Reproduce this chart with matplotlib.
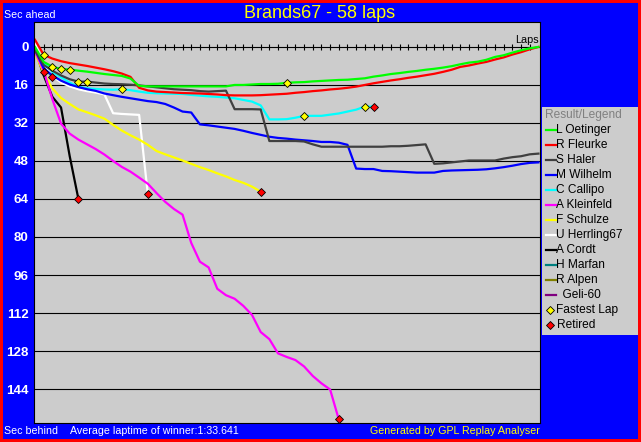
import matplotlib.pyplot as plt
from matplotlib.patches import Rectangle

W, H = 641, 442

drivers = ["L Oetinger", "R Fleurke", "S Haler", "M Wilhelm", "C Callipo",
           "A Kleinfeld", "F Schulze", "U Herrling67", "A Cordt", "H Marfan",
           "R Alpen", "Geli-60"]
colors = ["#00ff00", "#ff0000", "#404040", "#0000ff", "#00ffff", "#ff00ff",
          "#ffff00", "#ffffff", "#000000", "#008080", "#808000", "#800080"]

# seconds behind (positive) at the end of each lap, lap 0 = start
oetinger = [0.0, 6.3, 8.3, 9.3, 9.5, 10.0, 10.4, 10.9, 11.4, 11.8,
            12.2, 13.3, 16.4, 16.6, 16.6, 16.6, 16.6, 16.6, 16.6, 16.6,
            16.6, 16.6, 16.6, 16.0, 16.0, 15.8, 15.6, 15.6, 15.5, 15.1,
            14.9, 14.8, 14.5, 14.3, 14.1, 13.9, 13.8, 13.5, 13.2, 12.5,
            12.0, 11.4, 11.0, 10.5, 10.1, 9.6, 9.2, 8.7, 8.1, 7.3,
            6.6, 6.2, 5.4, 4.2, 3.5, 2.4, 1.4, 0.6, 0.0]
fleurke = [-3.0, 3.3, 4.9, 6.0, 6.8, 7.4, 8.0, 8.7, 9.4, 10.2,
           11.2, 12.6, 17.2, 18.3, 18.8, 19.0, 19.2, 19.4, 19.5, 19.6,
           19.8, 20.0, 20.3, 20.4, 20.4, 20.4, 20.3, 20.1, 19.9, 19.7,
           19.3, 19.0, 18.6, 18.3, 17.9, 17.6, 17.2, 16.7, 16.0, 15.3,
           14.7, 14.1, 13.6, 13.0, 12.5, 11.9, 11.3, 10.5, 9.6, 8.4,
           7.8, 7.0, 6.3, 5.3, 4.4, 3.2, 2.2, 1.0, 0.0]
haler = [1.5, 7.6, 10.0, 12.0, 13.6, 14.6, 14.6, 15.0, 15.4, 15.6,
         15.7, 15.9, 16.2, 16.6, 17.0, 17.4, 17.8, 18.0, 18.2, 18.6,
         18.8, 18.6, 18.4, 26.2, 26.2, 26.2, 26.3, 39.6, 39.6, 39.6,
         39.6, 39.8, 41.0, 42.0, 42.0, 42.0, 42.0, 42.0, 42.0, 42.0,
         42.0, 41.8, 41.8, 41.6, 41.3, 41.0, 49.2, 49.0, 48.6, 48.2,
         47.8, 47.8, 47.8, 47.8, 47.0, 46.4, 46.0, 45.2, 44.9]
wilhelm = [1.0, 9.0, 12.0, 14.2, 15.8, 16.9, 17.8, 18.5, 19.6, 20.3,
           21.0, 21.6, 22.2, 22.8, 23.2, 24.0, 25.5, 27.2, 27.6, 32.6,
           33.0, 33.5, 34.0, 34.5, 35.3, 36.2, 37.0, 37.8, 38.3, 38.6,
           39.0, 39.3, 39.6, 40.0, 40.0, 40.3, 41.2, 51.2, 51.4, 51.4,
           52.2, 52.3, 52.5, 52.7, 52.9, 52.9, 52.9, 52.2, 52.0, 51.9,
           51.8, 51.7, 51.5, 51.1, 50.6, 50.0, 49.3, 48.8, 48.6]
callipo = [0.5, 6.5, 10.5, 12.8, 15.0, 16.8, 17.4, 17.7, 17.9, 18.0,
           17.8, 18.2, 18.8, 19.3, 19.5, 19.6, 19.7, 19.8, 20.2, 20.5,
           20.8, 21.0, 21.3, 21.6, 22.3, 23.0, 24.6, 30.5, 30.5, 30.4,
           29.8, 29.0, 29.0, 29.0, 28.5, 28.0, 27.2, 26.4, 25.1, 25.1]
kleinfeld = [2.0, 10.0, 22.0, 32.3, 36.5, 39.0, 41.0, 43.0, 45.3, 48.0,
             50.5, 52.5, 55.0, 57.6, 61.5, 65.2, 68.2, 70.6, 82.5, 90.4,
             92.8, 101.8, 104.5, 106.0, 109.0, 112.8, 120.0, 123.0, 129.0, 130.5,
             131.8, 134.5, 138.5, 141.6, 144.2, 156.8]
schulze = [2.5, 11.0, 17.5, 21.5, 24.0, 26.3, 27.5, 28.8, 30.2, 32.8,
           35.2, 37.2, 39.0, 41.2, 43.8, 45.2, 46.5, 47.8, 49.2, 50.6,
           51.8, 53.2, 54.5, 56.0, 57.2, 58.8, 60.9]
herrling = [-1.5, 7.0, 12.2, 15.0, 16.6, 17.8, 18.6, 19.2, 20.0, 27.9,
            28.2, 28.4, 28.6, 62.0]
cordt = [1.0, 12.0, 21.0, 25.5, 46.0, 64.0]
marfan = [1.0, 8.5, 12.5]
alpen = [1.5, 10.4]
geli = []

gaps = [oetinger, fleurke, haler, wilhelm, callipo, kleinfeld, schulze,
        herrling, cordt, marfan, alpen, geli]
finished = ["L Oetinger", "R Fleurke", "S Haler", "M Wilhelm"]

fastest_driver = ["R Fleurke", "L Oetinger", "L Oetinger", "L Oetinger", "S Haler",
                  "S Haler", "C Callipo", "L Oetinger", "C Callipo", "C Callipo"]
fastest_lap = [1, 2, 3, 4, 5, 6, 10, 29, 31, 38]

total_laps = 58
grid_secs = list(range(16, 145, 16))

plt.rcParams['font.family'] = ['Liberation Sans', 'DejaVu Sans']

fig = plt.figure(figsize=(W / 100, H / 100), dpi=100, facecolor='#0000ff')
ax = fig.add_axes([34 / W, 1 - 423 / H, 506 / W, 401 / H])
ax.set_facecolor('#cccccc')
ax.set_xlim(-0.115, 58.18)
ax.set_ylim(158.3, -10.5)
for s in ax.spines.values():
    s.set_color('black')
    s.set_linewidth(0.8)

ax.hlines(grid_secs, -0.2, 58.3, color='black', lw=0.8, zorder=1)
ax.hlines(0, 0.5, 58.3, color='black', lw=0.8, zorder=1)
ax.vlines(range(1, total_laps), -1.2, 1.2, color='black', lw=0.8, zorder=1)
ax.text(58, -0.8, 'Laps', ha='right', va='bottom', fontsize=7.8, color='black')

for name, col, g in reversed(list(zip(drivers, colors, gaps))):
    if not g:
        continue
    ax.plot(range(len(g)), g, color=col, lw=1.6, zorder=2)

for d, lap in zip(fastest_driver, fastest_lap):
    g = gaps[drivers.index(d)]
    ax.plot(lap, g[lap], marker='D', ms=4.5, mfc='#ffff00', mec='black',
            mew=0.6, zorder=4)
for name, g in zip(drivers, gaps):
    if g and name not in finished:
        ax.plot(len(g) - 1, g[-1], marker='D', ms=4.5, mfc='#ff0000',
                mec='black', mew=0.6, zorder=4)

ax.set_xticks([])
ax.set_yticks([0] + grid_secs)
ax.set_yticklabels([str(v) for v in [0] + grid_secs])
ax.tick_params(axis='y', length=0, pad=4, labelcolor='white', labelsize=9.6)
for t in ax.get_yticklabels():
    t.set_fontweight('bold')

# texts around the plot
fig.text(320 / W, 1 - 13 / H, 'Brands67 - 58 laps', ha='center', va='center',
         color='#ffff00', fontsize=13)
fig.text(4 / W, 1 - 15 / H, 'Sec ahead', ha='left', va='center',
         color='white', fontsize=7.7)
fig.text(4 / W, 1 - 431 / H, 'Sec behind', ha='left', va='center',
         color='white', fontsize=7.7)
fig.text(70 / W, 1 - 431 / H, 'Average laptime of winner:1:33.641', ha='left',
         va='center', color='white', fontsize=7.7)
fig.text(540 / W, 1 - 431 / H, 'Generated by GPL Replay Analyser', ha='right',
         va='center', color='#ffff00', fontsize=7.7)

# legend box
lax = fig.add_axes([542 / W, 1 - 335 / H, 96 / W, 228 / H])
lax.set_facecolor('#cccccc')
lax.set_xlim(542, 638)
lax.set_ylim(335, 107)
lax.set_xticks([])
lax.set_yticks([])
for s in lax.spines.values():
    s.set_visible(False)
lax.text(545, 115, 'Result/Legend', va='center', ha='left', color='#808080',
         fontsize=8.6)
for i, (name, col) in enumerate(zip(drivers, colors)):
    y = 130 + 15 * i
    lax.plot([545.5, 555.5], [y, y], color=col, lw=1.6)
    label = '  ' + name if name == 'Geli-60' else name
    lax.text(556.5, y, label, va='center', ha='left', color='black', fontsize=8.6)
y = 130 + 15 * len(drivers)
lax.plot(549.5, y, marker='D', ms=4.5, mfc='#ffff00', mec='black', mew=0.6)
lax.text(556.5, y, 'Fastest Lap', va='center', ha='left', fontsize=8.6)
y += 15
lax.plot(549.5, y, marker='D', ms=4.5, mfc='#ff0000', mec='black', mew=0.6)
lax.text(556.5, y, 'Retired', va='center', ha='left', fontsize=8.6)

fig.add_artist(Rectangle((0, 0), 1, 1, transform=fig.transFigure, fill=False,
                         edgecolor='#ff0000', lw=4.3))

fig.savefig('out.png', dpi=100, facecolor=fig.get_facecolor())
